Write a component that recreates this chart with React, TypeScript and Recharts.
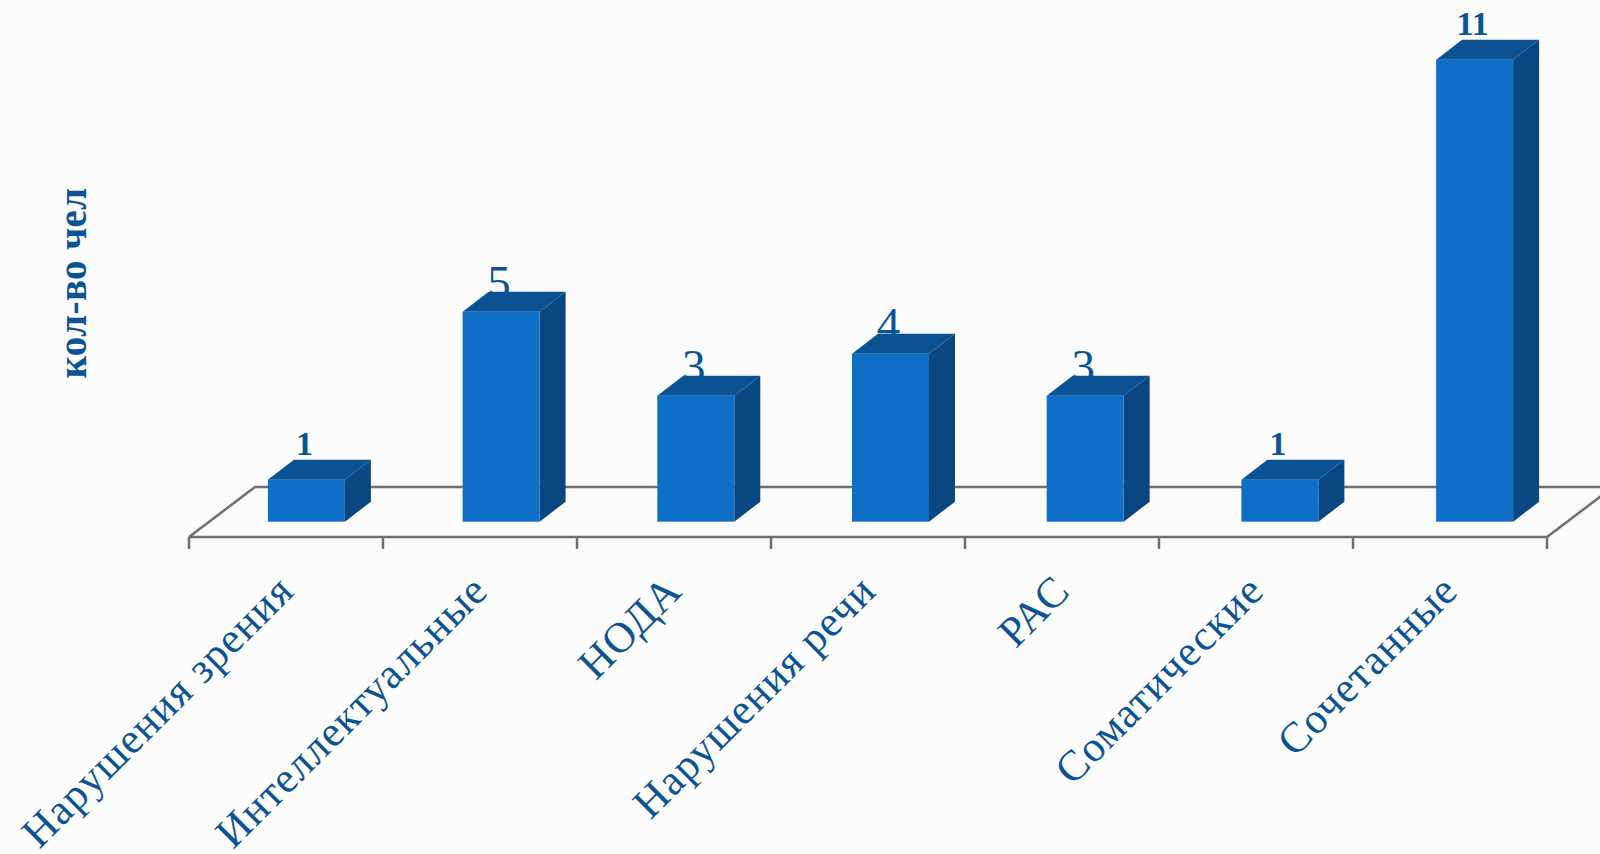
import { Bar, BarChart, Customized, XAxis, YAxis } from 'recharts';

const categories = [
  'Нарушения зрения',
  'Интеллектуальные',
  'НОДА',
  'Нарушения речи',
  'РАС',
  'Соматические',
  'Сочетанные',
];
const counts = [1, 5, 3, 4, 3, 1, 11];
const boldLabelCategories = ['Нарушения зрения', 'Соматические', 'Сочетанные'];

const chartData = categories.map((name, index) => ({ name, count: counts[index] }));

const WIDTH = 1600;
const HEIGHT = 854;
const LEFT = 189;
const RIGHT = 1547;
const FLOOR_Y = 537;
const TOP = 20;
const UNIT = 42;
const BAND = (RIGHT - LEFT) / categories.length;

const BAR_SHIFT = 22;
const BAR_SPREAD = 0.7;
const DEPTH_X = 26;
const DEPTH_Y = 20;
const FLOOR_DX = 66;
const FLOOR_DY = 50;

const FRONT = '#0f6fc6';
const TOP_FACE = '#0b5294';
const SIDE = '#0a4780';
const TEXT = '#0b5394';
const GRID = '#6f6f6f';
const SERIF = '"Liberation Serif", serif';

const Floor = () => (
  <polyline
    points={`${LEFT},${FLOOR_Y} ${LEFT + FLOOR_DX},${FLOOR_Y - FLOOR_DY} ${RIGHT + FLOOR_DX},${FLOOR_Y - FLOOR_DY} ${RIGHT},${FLOOR_Y}`}
    fill='none'
    stroke={GRID}
    strokeWidth={2.5}
  />
);

const Bar3D = (props: any) => {
  const { x, y, width, height, payload, index } = props;
  const left = x + BAR_SHIFT + (index - 3) * BAR_SPREAD;
  const right = left + width;
  const bottom = y + height;
  const bold = boldLabelCategories.includes(payload.name);
  return (
    <g>
      <text
        x={left + width / 2 - 2}
        y={bold ? y - DEPTH_Y - 5 : y - DEPTH_Y + 6}
        textAnchor='middle'
        fontFamily={SERIF}
        fontSize={bold ? 34 : 47}
        fontWeight={bold ? 700 : 400}
        fill={TEXT}
      >
        {payload.count}
      </text>
      <polygon
        points={`${left},${y} ${left + DEPTH_X},${y - DEPTH_Y} ${right + DEPTH_X},${y - DEPTH_Y} ${right},${y}`}
        fill={TOP_FACE}
      />
      <polygon
        points={`${right},${y} ${right + DEPTH_X},${y - DEPTH_Y} ${right + DEPTH_X},${bottom - DEPTH_Y} ${right},${bottom}`}
        fill={SIDE}
      />
      <rect x={left} y={y} width={width} height={height} fill={FRONT} />
    </g>
  );
};

const CategoryTick = (props: any) => {
  const { x, y, payload, index } = props;
  const tickX = x - BAND / 2;
  const labelX = x + 10;
  const labelY = y + 48;
  return (
    <g>
      <line x1={tickX} x2={tickX} y1={FLOOR_Y} y2={FLOOR_Y + 12} stroke={GRID} strokeWidth={2.5} />
      {index === categories.length - 1 ? (
        <line x1={tickX + BAND} x2={tickX + BAND} y1={FLOOR_Y} y2={FLOOR_Y + 12} stroke={GRID} strokeWidth={2.5} />
      ) : null}
      <text
        x={labelX}
        y={labelY}
        textAnchor='end'
        fontFamily={SERIF}
        fontSize={43}
        letterSpacing={1.15}
        fill={TEXT}
        transform={`rotate(-45 ${labelX} ${labelY})`}
      >
        {payload.value}
      </text>
    </g>
  );
};

export default function App() {
  const plotHeight = FLOOR_Y - TOP;
  const zeroOffset = 15.3;
  const yDomain = [-zeroOffset / UNIT, (plotHeight - zeroOffset) / UNIT];

  return (
    <div style={{ position: 'absolute', left: 0, top: 0, width: WIDTH, height: HEIGHT, background: '#fcfcfc', overflow: 'hidden' }}>
      <BarChart
        width={WIDTH}
        height={HEIGHT}
        data={chartData}
        margin={{ top: TOP, right: WIDTH - RIGHT, bottom: 0, left: LEFT }}
        barSize={77}
      >
        <Customized component={Floor} />
        <XAxis
          dataKey='name'
          height={HEIGHT - FLOOR_Y}
          interval={0}
          axisLine={{ stroke: GRID, strokeWidth: 2.5 }}
          tickLine={false}
          tick={<CategoryTick />}
        />
        <YAxis hide domain={yDomain} />
        <Bar dataKey='count' isAnimationActive={false} shape={<Bar3D />} />
      </BarChart>
      <svg width={WIDTH} height={HEIGHT} style={{ position: 'absolute', left: 0, top: 0, pointerEvents: 'none' }}>
        <text
          x={86}
          y={283}
          textAnchor='middle'
          fontFamily={SERIF}
          fontSize={39}
          fontWeight={700}
          letterSpacing={0.4}
          fill={TEXT}
          transform='rotate(-90 86 283)'
        >
          кол-во чел
        </text>
      </svg>
    </div>
  );
}
